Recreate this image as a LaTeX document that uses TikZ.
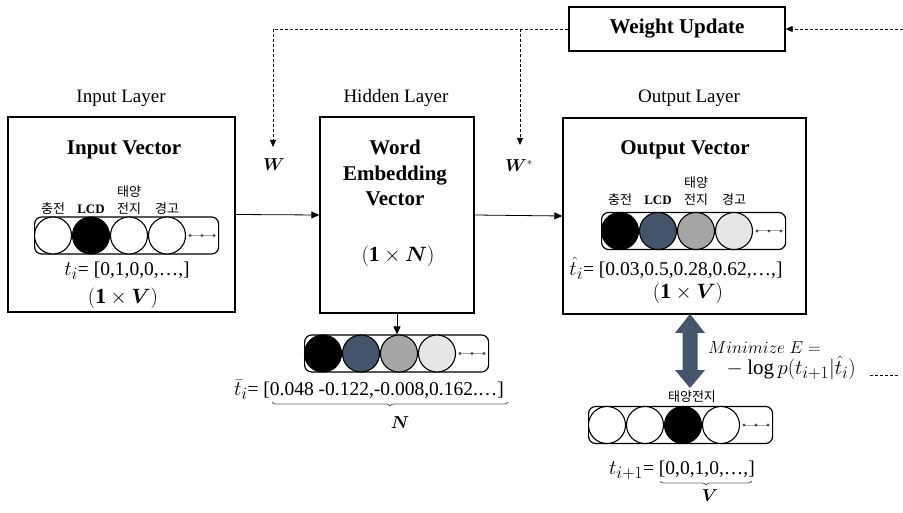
\documentclass[tikz,border=0pt]{standalone}
\usepackage{amsmath,bm}
\usepackage{fontspec}
\setmainfont{Liberation Serif}
\newfontfamily\krfont{Noto Sans CJK KR}
\usetikzlibrary{arrows.meta,decorations.pathreplacing}
\DeclareMathSizes{19.5}{22}{17}{13}
\DeclareMathSizes{20}{21.5}{16}{12}
\DeclareMathSizes{19}{21}{16}{12}
\definecolor{slate}{HTML}{44546A}
\definecolor{mgray}{HTML}{A6A6A6}
\definecolor{lgray}{HTML}{E7E6E6}
\tikzset{
  box/.style={draw, line width=1.3pt, inner sep=0pt},
  strip/.style={draw, line width=1.2pt, rounded corners=7pt, minimum width=184pt, minimum height=37pt, inner sep=0pt},
  ball/.style={draw, line width=1.1pt, circle, minimum size=37pt, inner sep=0pt},
  lbl/.style={font=\fontsize{19}{21}\selectfont, inner sep=0pt},
  ttl/.style={font=\bfseries\fontsize{21}{25.5}\selectfont, align=center, inner sep=0pt},
  kl/.style={font=\krfont\fontsize{13}{14}\selectfont, inner sep=0pt},
  lcd/.style={font=\bfseries\fontsize{13}{14}\selectfont, inner sep=0pt},
  vec/.style={font=\fontsize{19.5}{21}\selectfont, inner sep=0pt},
  dimlbl/.style={font=\fontsize{20}{22}\selectfont, inner sep=0pt},
  wlbl/.style={font=\fontsize{16}{18}\selectfont, inner sep=0pt},
  minlbl/.style={font=\fontsize{18.5}{20}\selectfont, inner sep=0pt},
  loglbl/.style={font=\fontsize{19}{21}\selectfont, inner sep=0pt},
  arr/.style={line width=0.8pt, -{Triangle[length=8pt,width=7pt]}},
  dsh/.style={line width=0.8pt, dash pattern=on 3pt off 2pt, -{Triangle[length=7pt,width=6pt]}},
  dshline/.style={line width=0.8pt, dash pattern=on 3pt off 2pt},
  brc/.style={decorate, decoration={brace, mirror, amplitude=4pt}, black!60, line width=0.8pt},
}
\newcommand\mystrip[4]{%
  \node[strip, anchor=west] (#1) at (#2,#3) {};
  \foreach \f [count=\k] in {#4} {
    \node[ball, fill=\f] (#1-\k) at ({#2+38*\k-19},#3) {};
  }
  \draw[black!35, line width=1pt] ({#2+156},#3) -- ({#2+180},#3);
  \foreach \d in {156,168,180} { \fill[black!70] ({#2+\d},#3) circle (1.6pt); }
}
\begin{document}
\begin{tikzpicture}[x=1pt,y=-1pt]
\useasboundingbox (0,0) rectangle (903,513);

% layer titles
\node[lbl] (tin) at (121,98) {Input Layer};
\node[lbl] (thid) at (396,98) {Hidden Layer};
\node[lbl] (tout) at (689,98) {Output Layer};

% boxes
\node[box, minimum width=227pt, minimum height=195pt] (inbox) at (121.5,214.5) {};
\node[box, minimum width=154pt, minimum height=196pt] (hidbox) at (397,215) {};
\node[box, minimum width=243pt, minimum height=196pt] (outbox) at (684.5,216) {};
\node[box, minimum width=216pt, minimum height=44pt, font=\bfseries\fontsize{21}{24}\selectfont] (wu) at (677,29) {Weight Update};

% input box content
\node[ttl] (invt) at (124,150) {Input Vector};
\mystrip{is}{34}{235.5}{white,black,white,white}
\node[kl] (il1) at (is-1 |- 0,209) {충전};
\node[lcd] (il2) at (is-2 |- 0,209) {LCD};
\node[kl] (il3a) at (is-3 |- 0,192) {태양};
\node[kl] (il3b) at (is-3 |- 0,209) {전지};
\node[kl] (il4) at (is-4 |- 0,209) {경고};
\node[vec] (iv) at (127,271) {$t_i$= [0,1,0,0,…,]};
\node[dimlbl] (idim) at (123,298) {$(\mathbf{1}\times\bm{V})$};

% hidden box content
\node[ttl] (hidt) at (395,173) {Word\\Embedding\\Vector};
\node[dimlbl] (hdim) at (398,256) {$(\mathbf{1}\times\bm{N})$};
\mystrip{hs}{304}{353.5}{black,slate,mgray,lgray}
\node[vec] (hv) at (369,390) {$\bar{t}_i$= [0.048 -0.122,-0.008,0.162.…]};
\draw[brc] (272,402) -- (508,402);
\node[wlbl] (nlbl) at (400,423) {$\bm{N}$};

% output box content
\node[ttl] (outt) at (685,150) {Output Vector};
\mystrip{os}{601}{231}{black,slate,mgray,lgray}
\node[kl] (ol1) at (os-1 |- 0,200) {충전};
\node[lcd] (ol2) at (os-2 |- 0,200) {LCD};
\node[kl] (ol3a) at (os-3 |- 0,183) {태양};
\node[kl] (ol3b) at (os-3 |- 0,200) {전지};
\node[kl] (ol4) at (os-4 |- 0,200) {경고};
\node[vec] (ov) at (676,268) {$\hat{t}_i$= [0.03,0.5,0.28,0.62,…,]};
\node[dimlbl] (odim) at (688,293) {$(\mathbf{1}\times\bm{V})$};

% target vector
\node[kl] (tl) at (692,397) {태양전지};
\mystrip{ts}{588}{425}{white,white,black,white}
\node[vec] (tv) at (682,470) {$t_{i+1}$= [0,0,1,0,…,]};
\draw[brc] (660,481) -- (752,481);
\node[wlbl] (vlbl) at (710,496) {$\bm{V}$};

% double arrow
\fill[slate] (690,314) -- (705,333) -- (697.5,333) -- (697.5,370) -- (705,370)
  -- (690,388) -- (675,370) -- (682.5,370) -- (682.5,333) -- (675,333) -- cycle;

% loss
\node[minlbl, anchor=west] (minE) at (708,348) {$Minimize\ E=$};
\node[loglbl, anchor=east] (logp) at (856,368) {${}-\log p(t_{i+1}|\hat{t}_i)$};
\coordinate (la) at (870,375);
\coordinate (lb) at (900,375);
\draw[dshline] (la) -- (lb);

% weights
\node[wlbl] (wl) at (274,165) {$\bm{W}$};
\node[wlbl] (wsl) at (519,166) {$\bm{W}^{*}$};

% connectors
\draw[arr] (inbox.east) -- (hidbox.west);
\draw[arr] (hidbox.east) -- (outbox.west);
\draw[arr] (hidbox.south) -- (hidbox.south |- hs.north);

\coordinate (wtip) at (273,147);
\coordinate (wstip) at (520,145);
\coordinate (rin) at (903,29);
\draw[dsh] (wu.west) -| (wtip);
\draw[dsh] (wu.west -| wstip) -- (wstip);
\draw[dsh] (rin) -- (wu.east);
\end{tikzpicture}
\end{document}
